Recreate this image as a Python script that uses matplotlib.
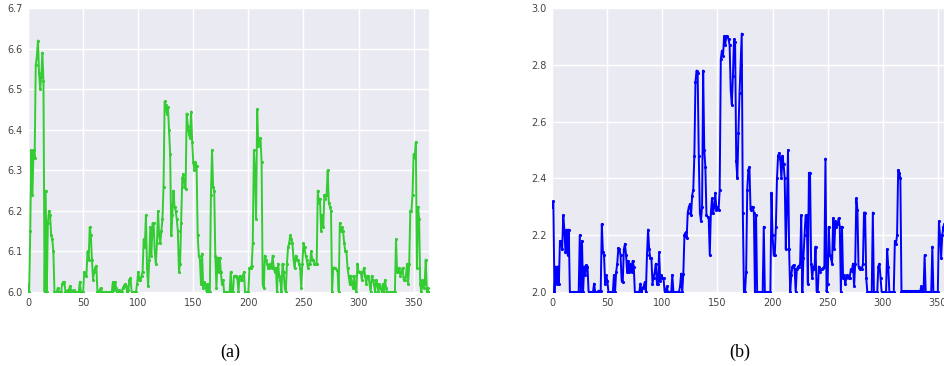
import numpy as np
import matplotlib
matplotlib.use("Agg")
import matplotlib.pyplot as plt

# daily values, left panel (a)
green_vals = [
    6.02, 6.00, 6.15, 6.35, 6.24, 6.35, 6.33, 6.56, 6.58, 6.62,
    6.54, 6.50, 6.53, 6.59, 6.52, 6.00, 6.25, 6.00, 6.17, 6.20,
    6.19, 6.14, 6.13, 6.10, 6.00, 6.00, 6.00, 6.01, 6.00, 6.00,
    6.00, 6.02, 6.025, 6.025, 6.00, 6.00, 6.005, 6.00, 6.015, 6.005,
    6.00, 6.00, 6.005, 6.00, 6.00, 6.00, 6.00, 6.025, 6.00, 6.00,
    6.00, 6.05, 6.045, 6.04, 6.10, 6.08, 6.16, 6.14, 6.08, 6.03,
    6.05, 6.06, 6.065, 6.00, 6.00, 6.005, 6.01, 6.00, 6.00, 6.00,
    6.00, 6.00, 6.00, 6.00, 6.00, 6.00, 6.00, 6.025, 6.005, 6.025,
    6.01, 6.00, 6.00, 6.005, 6.00, 6.00, 6.01, 6.015, 6.02, 6.015,
    6.00, 6.005, 6.03, 6.035, 6.00, 6.00, 6.00, 6.00, 6.00, 6.02,
    6.05, 6.03, 6.03, 6.04, 6.05, 6.13, 6.11, 6.19, 6.06, 6.015,
    6.08, 6.16, 6.09, 6.17, 6.17, 6.10, 6.07, 6.12, 6.20, 6.14,
    6.12, 6.15, 6.18, 6.26, 6.47, 6.46, 6.44, 6.455, 6.40, 6.34,
    6.14, 6.19, 6.25, 6.21, 6.20, 6.18, 6.15, 6.05, 6.07, 6.17,
    6.28, 6.29, 6.26, 6.255, 6.44, 6.41, 6.39, 6.38, 6.445, 6.37,
    6.32, 6.30, 6.32, 6.31, 6.14, 6.09, 6.08, 6.02, 6.095, 6.01,
    6.025, 6.02, 6.00, 6.02, 6.00, 6.00, 6.24, 6.35, 6.26, 6.25,
    6.09, 6.01, 6.085, 6.05, 6.085, 6.05, 6.02, 6.03, 6.00, 6.00,
    6.00, 6.00, 6.00, 6.00, 6.05, 6.00, 6.00, 6.04, 6.04, 6.04,
    6.035, 6.00, 6.04, 6.03, 6.03, 6.04, 6.05, 6.00, 6.00, 6.00,
    6.00, 6.06, 6.06, 6.065, 6.12, 6.35, 6.30, 6.18, 6.45, 6.36,
    6.37, 6.38, 6.32, 6.02, 6.01, 6.09, 6.08, 6.07, 6.06, 6.06,
    6.07, 6.06, 6.09, 6.06, 6.05, 6.06, 6.00, 6.07, 6.04, 6.03,
    6.00, 6.07, 6.05, 6.01, 6.00, 6.07, 6.11, 6.12, 6.14, 6.13,
    6.12, 6.08, 6.06, 6.09, 6.08, 6.08, 6.07, 6.06, 6.01, 6.07,
    6.12, 6.11, 6.09, 6.08, 6.06, 6.07, 6.07, 6.10, 6.08, 6.08,
    6.07, 6.07, 6.07, 6.25, 6.22, 6.23, 6.15, 6.19, 6.16, 6.24,
    6.23, 6.24, 6.30, 6.22, 6.21, 6.20, 6.00, 6.06, 6.06, 6.06,
    6.055, 6.05, 6.00, 6.17, 6.15, 6.16, 6.15, 6.12, 6.10, 6.10,
    6.06, 6.04, 6.02, 6.04, 6.02, 6.01, 6.04, 6.01, 6.00, 6.07,
    6.05, 6.05, 6.05, 6.03, 6.05, 6.06, 6.04, 6.02, 6.04, 6.04,
    6.02, 6.00, 6.04, 6.03, 6.02, 6.00, 6.03, 6.02, 6.00, 6.02,
    6.01, 6.00, 6.02, 6.00, 6.03, 6.01, 6.00, 6.00, 6.00, 6.00,
    6.00, 6.00, 6.00, 6.00, 6.13, 6.05, 6.05, 6.06, 6.04, 6.05,
    6.06, 6.03, 6.03, 6.04, 6.07, 6.02, 6.07, 6.20, 6.20, 6.24,
    6.34, 6.33, 6.37, 6.06, 6.21, 6.18, 6.02, 6.00, 6.03, 6.01,
    6.02, 6.08, 6.00, 6.01, 6.00,
]

# daily values, right panel (b)
blue_vals = [
    2.30, 2.32, 2.00, 2.09, 2.03, 2.09, 2.03, 2.18, 2.18, 2.15,
    2.27, 2.22, 2.14, 2.22, 2.13, 2.22, 2.00, 2.00, 2.00, 2.00,
    2.00, 2.00, 2.00, 2.00, 2.00, 2.20, 2.00, 2.18, 2.00, 2.09,
    2.06, 2.095, 2.09, 2.00, 2.00, 2.00, 2.00, 2.00, 2.03, 2.00,
    2.00, 2.00, 2.005, 2.00, 2.005, 2.24, 2.14, 2.13, 2.03, 2.06,
    2.04, 2.00, 2.00, 2.00, 2.00, 2.00, 2.06, 2.00, 2.07, 2.10,
    2.155, 2.15, 2.13, 2.04, 2.035, 2.15, 2.17, 2.13, 2.07, 2.11,
    2.07, 2.10, 2.07, 2.11, 2.09, 2.00, 2.00, 2.00, 2.00, 2.00,
    2.03, 2.00, 2.015, 2.02, 2.035, 2.00, 2.13, 2.22, 2.15, 2.12,
    2.12, 2.03, 2.05, 2.07, 2.10, 2.03, 2.03, 2.14, 2.04, 2.06,
    2.05, 2.05, 2.00, 2.00, 2.02, 2.00, 2.00, 2.00, 2.00, 2.06,
    2.00, 2.00, 2.00, 2.00, 2.00, 2.00, 2.02, 2.065, 2.00, 2.065,
    2.20, 2.21, 2.19, 2.28, 2.30, 2.31, 2.27, 2.34, 2.36, 2.48,
    2.74, 2.78, 2.77, 2.48, 2.28, 2.25, 2.30, 2.78, 2.50, 2.44,
    2.27, 2.265, 2.26, 2.13, 2.28, 2.33, 2.28, 2.30, 2.35, 2.29,
    2.30, 2.29, 2.36, 2.82, 2.85, 2.83, 2.90, 2.87, 2.90, 2.90,
    2.89, 2.87, 2.71, 2.66, 2.76, 2.89, 2.88, 2.46, 2.40, 2.56,
    2.70, 2.80, 2.91, 2.28, 2.00, 2.00, 2.07, 2.36, 2.43, 2.44,
    2.29, 2.30, 2.30, 2.28, 2.00, 2.27, 2.00, 2.00, 2.00, 2.00,
    2.00, 2.00, 2.23, 2.00, 2.00, 2.00, 2.00, 2.00, 2.00, 2.35,
    2.20, 2.13, 2.13, 2.23, 2.40, 2.48, 2.49, 2.47, 2.40, 2.48,
    2.45, 2.40, 2.15, 2.30, 2.50, 2.15, 2.00, 2.06, 2.09, 2.095,
    2.08, 2.00, 2.08, 2.09, 2.09, 2.10, 2.27, 2.00, 2.12, 2.20,
    2.27, 2.27, 2.03, 2.42, 2.42, 2.10, 2.05, 2.09, 2.08, 2.16,
    2.00, 2.00, 2.09, 2.07, 2.08, 2.08, 2.085, 2.09, 2.47, 2.00,
    2.03, 2.23, 2.13, 2.12, 2.10, 2.26, 2.15, 2.25, 2.23, 2.24,
    2.26, 2.23, 2.00, 2.23, 2.05, 2.06, 2.03, 2.05, 2.06, 2.05,
    2.05, 2.08, 2.075, 2.10, 2.02, 2.10, 2.33, 2.29, 2.09, 2.08,
    2.085, 2.08, 2.10, 2.28, 2.28, 2.05, 2.00, 2.00, 2.00, 2.00,
    2.00, 2.28, 2.00, 2.00, 2.00, 2.00, 2.09, 2.10, 2.05, 2.00,
    2.00, 2.00, 2.00, 2.00, 2.15, 2.09, 2.00, 2.00, 2.00, 2.00,
    2.00, 2.18, 2.17, 2.20, 2.43, 2.42, 2.40, 2.00, 2.003, 2.003,
    2.003, 2.003, 2.003, 2.003, 2.003, 2.003, 2.003, 2.003, 2.003, 2.003,
    2.003, 2.003, 2.003, 2.003, 2.003, 2.02, 2.00, 2.00, 2.13, 2.00,
    2.00, 2.00, 2.00, 2.00, 2.00, 2.16, 2.00, 2.00, 2.00, 2.00,
    2.00, 2.25, 2.20, 2.12, 2.20, 2.23, 2.24, 2.17, 2.20, 2.12,
    2.15, 2.10, 2.18, 2.12, 2.15,
]

green_days = np.arange(len(green_vals))
blue_days = np.arange(len(blue_vals))

x_ticks = [0, 50, 100, 150, 200, 250, 300, 350]
green_yticks = [6.0, 6.1, 6.2, 6.3, 6.4, 6.5, 6.6, 6.7]
blue_yticks = [2.0, 2.2, 2.4, 2.6, 2.8, 3.0]

fig = plt.figure(figsize=(9.44, 3.66), dpi=100)

ax1 = fig.add_axes([0.0297, 0.202, 0.4248, 0.776])
ax2 = fig.add_axes([0.585, 0.202, 0.4248, 0.776])

panels = [
    (ax1, green_days, green_vals, "#33cc33", green_yticks, (6.0, 6.7)),
    (ax2, blue_days, blue_vals, "#0000ff", blue_yticks, (2.0, 3.0)),
]

for ax, xs, ys, col, yt, ylim in panels:
    ax.set_facecolor("#eaeaf2")
    ax.grid(True, color="white", linewidth=1.0)
    ax.set_axisbelow(True)
    for s in ax.spines.values():
        s.set_visible(False)
    ax.plot(xs, ys, "-", color=col, linewidth=1.4, marker=".", markersize=2.5)
    ax.set_xlim(0, 364)
    ax.set_ylim(*ylim)
    ax.set_xticks(x_ticks)
    ax.set_yticks(yt)
    ax.set_yticklabels(["%.1f" % v for v in yt])
    ax.tick_params(length=0, labelsize=7, colors="#444444", pad=4)

fig.text(0.244, 0.038, "(a)", ha="center", va="center", fontsize=13,
         family=["Liberation Serif", "DejaVu Serif"])
fig.text(0.784, 0.038, "(b)", ha="center", va="center", fontsize=13,
         family=["Liberation Serif", "DejaVu Serif"])

fig.savefig("out.png", dpi=100)
